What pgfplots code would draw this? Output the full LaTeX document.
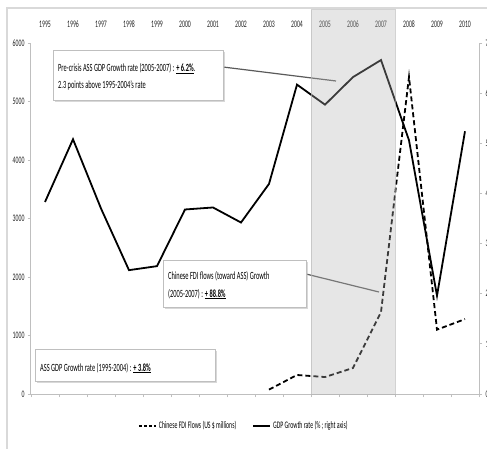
\documentclass[border=0pt]{standalone}
\usepackage{fontspec}
\setmainfont{Carlito}[FakeStretch=0.58]
\usepackage{pgfplots}
\pgfplotsset{compat=1.18}
\usetikzlibrary{shadows}
\definecolor{axgray}{HTML}{BFBFBF}
\definecolor{hlgray}{RGB}{180,180,180}
\definecolor{leader}{HTML}{5A5A5A}
\pgfplotstableread{
x fdi
8 75
9 325
10 290
11 445
12 1400
13 5420
14 1100
15 1280
}\fdidata
\pgfplotstableread{
x gdp
0 3.83
1 5.08
2 3.70
3 2.47
4 2.55
5 3.68
6 3.72
7 3.42
8 4.19
9 6.17
10 5.77
11 6.32
12 6.66
13 5.06
14 1.96
15 5.24
}\gdpdata
\begin{document}
\begin{tikzpicture}
\useasboundingbox (0pt,0pt) rectangle (487pt,448pt);
\fill[white] (0pt,0pt) rectangle (487pt,448pt);
\draw[gray!30, line width=1.2pt] (7pt,-20pt) rectangle (520pt,440pt);
\begin{axis}[
  at={(31pt,54pt)}, anchor=south west, scale only axis,
  width=448pt, height=351pt,
  xmin=-0.5, xmax=15.5, ymin=0, ymax=6000,
  axis x line*=bottom, axis y line*=left,
  axis line style={draw=axgray, line width=1pt, -},
  xtick={-0.5,0.5,...,15.5}, xticklabels={},
  ytick={0,1000,...,6000},
  tick align=outside, major tick length=3pt,
  tick style={draw=axgray, line width=0.8pt},
  yticklabel style={font=\fontsize{10}{12}\selectfont, text=black!85},
  /pgf/number format/assume math mode=true,
  scaled y ticks=false, /pgf/number format/1000 sep={},
  clip=false,
]
\addplot[black, line width=1.8pt, dash pattern=on 5pt off 3pt] table[x=x, y=fdi] {\fdidata};
\end{axis}
\begin{axis}[
  at={(31pt,54pt)}, anchor=south west, scale only axis,
  width=448pt, height=351pt,
  xmin=-0.5, xmax=15.5, ymin=0, ymax=7,
  axis x line*=top, axis y line*=right,
  x axis line style={draw=none},
  y axis line style={draw=axgray, line width=1pt, -},
  xtick={0,...,15},
  xticklabels={1995,1996,1997,1998,1999,2000,2001,2002,2003,2004,2005,2006,2007,2008,2009,2010},
  major x tick style={draw=none},
  xticklabel style={font=\fontsize{10}{12}\selectfont, text=black!85, anchor=center, yshift=16pt},
  ytick={0,...,7},
  tick align=outside, major tick length=3pt,
  y tick style={draw=axgray, line width=0.8pt},
  yticklabel style={font=\fontsize{10}{12}\selectfont, text=black!85},
  /pgf/number format/assume math mode=true,
  clip=false,
  legend style={at={(0.475,-0.091)}, anchor=center, draw=none, fill=none,
    font=\fontsize{10}{12}\selectfont, /tikz/every even column/.append style={column sep=14pt}},
  legend columns=2,
]
\addlegendimage{black, line width=1.8pt, dash pattern=on 3pt off 2pt}
\addlegendentry{Chinese FDI Flows (US \$ millions)}
\addplot[black, line width=1.8pt] table[x=x, y=gdp] {\gdpdata};
\addlegendentry{GDP Growth rate (\% ; right axis)}
\end{axis}
% leaders
\draw[leader, line width=1.2pt] (223pt,381pt) -- (336pt,367pt);
\draw[leader, line width=1.2pt] (306pt,174pt) -- (379pt,156pt);
% box 1
\draw[gray!50, fill=white, drop shadow={shadow xshift=2pt, shadow yshift=-2pt, fill=gray!60}] (53pt,348pt) rectangle (223pt,398pt);
\node[anchor=base west, inner sep=0pt, font=\fontsize{11}{13}\selectfont] at (58pt,376pt) {Pre-crisis ASS GDP Growth rate (2005-2007) : \underline{\textbf{+ 6.2\%}}.};
\node[anchor=base west, inner sep=0pt, font=\fontsize{11}{13}\selectfont] at (58pt,359pt) {2.3 points above 1995-2004's rate};
% box 2
\draw[gray!50, fill=white, drop shadow={shadow xshift=2pt, shadow yshift=-2pt, fill=gray!60}] (163pt,141pt) rectangle (306pt,188pt);
\node[anchor=base west, inner sep=0pt, font=\fontsize{11}{13}\selectfont] at (168pt,169pt) {Chinese FDI flows (toward ASS) Growth};
\node[anchor=base west, inner sep=0pt, font=\fontsize{11}{13}\selectfont] at (168pt,151pt) {(2005-2007) : \underline{\textbf{+ 88.8\%}}};
% box 3
\draw[gray!50, fill=white, drop shadow={shadow xshift=2pt, shadow yshift=-2pt, fill=gray!60}] (35pt,67pt) rectangle (215pt,99pt);
\node[anchor=base west, inner sep=0pt, font=\fontsize{11}{13}\selectfont] at (40pt,77pt) {ASS GDP Growth rate (1995-2004) : \underline{\textbf{+ 3.8\%}}};
% translucent highlight over 2005-2007
\fill[hlgray, fill opacity=0.33] (311pt,54pt) rectangle (395pt,438pt);
\draw[hlgray, draw opacity=0.6, line width=1pt] (311pt,54pt) rectangle (395pt,438pt);
\end{tikzpicture}
\end{document}
